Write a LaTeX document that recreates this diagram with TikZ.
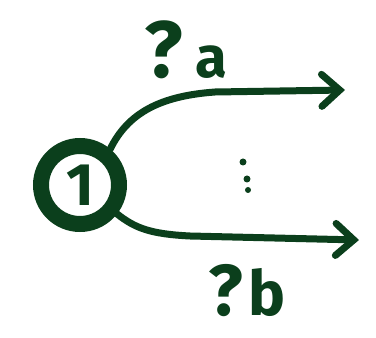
\documentclass[tikz,border=0pt]{standalone}
\usepackage{fontspec}
\setmainfont{Fira Sans}
\usetikzlibrary{arrows.meta}
\definecolor{ink}{HTML}{0B3F1C}
\begin{document}
\begin{tikzpicture}[x=1pt,y=1pt,
  ink/.style={draw=ink,line width=7pt,line cap=round,line join=round},
  arr/.style={ink,-{Straight Barb[length=18pt,width=32pt,line cap=round]}},
  lbl/.style={text=ink,font=\bfseries,inner sep=0pt},
  dotn/.style={circle,fill=ink,inner sep=0pt,minimum size=7pt}]
\useasboundingbox (0,0) rectangle (376,338);
\node[circle,draw=ink,line width=16pt,minimum size=78pt,inner sep=0pt,
      lbl,font=\fontsize{60}{60}\selectfont\bfseries] (s) at (80,153) {1};
\coordinate (ta) at (345,248);
\coordinate (tb) at (359,98);
\draw[arr] (s.50) .. controls (128,225) and (160,242) .. (215,246) -- (ta);
\draw[arr] (s.-38) .. controls (135,110) and (150,104) .. (190,102) -- (tb);
\node[lbl] (la) at (186,288) {{\fontsize{80}{80}\selectfont ?}\hspace{12pt}{\fontsize{58}{58}\selectfont a}};
\node[lbl] (lb) at (247,47) {{\fontsize{72}{72}\selectfont ?}\hspace{6pt}{\fontsize{62}{62}\selectfont b}};
\node[dotn] (d1) at (243,176) {};
\node[dotn] (d2) at (247,159) {};
\node[dotn,minimum size=6pt] (d3) at (248,148) {};
\end{tikzpicture}
\end{document}
